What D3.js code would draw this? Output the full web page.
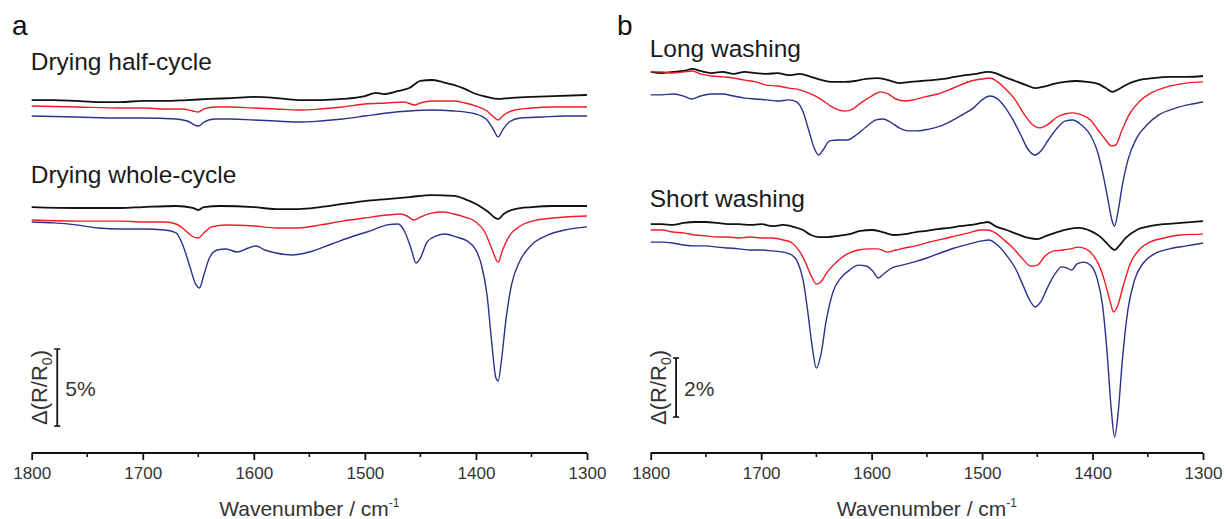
<!DOCTYPE html>
<html>
<head>
<meta charset="utf-8">
<script src="https://cdn.jsdelivr.net/npm/d3@7"></script>
<style>
  body { margin: 0; background: #fff; }
  svg { display: block; font-family: "Liberation Sans", Arial, sans-serif; }
</style>
</head>
<body>
<div id="chart"></div>
<script>
// ---- data: [wavenumber cm-1, ΔR/R0 in % incl. stacking offset] ----
const halfBlack = [[1800,22.92],[1780,22.92],[1760,22.86],[1740,22.79],[1720,22.79],[1700,22.86],[1680,22.86],[1660,22.92],[1640,22.99],[1620,23.05],[1600,23.12],[1580,23.05],[1560,22.92],[1540,22.92],[1520,22.99],[1500,23.18],[1490,23.38],[1483,23.31],[1470,23.51],[1460,23.70],[1450,24.16],[1440,24.22],[1430,24.09],[1420,23.90],[1410,23.64],[1400,23.31],[1390,23.12],[1380,22.99],[1370,23.05],[1350,23.12],[1330,23.18],[1300,23.25]];
const halfRed = [[1800,22.53],[1760,22.47],[1720,22.40],[1700,22.40],[1680,22.34],[1665,22.34],[1655,22.21],[1650,22.14],[1645,22.34],[1635,22.47],[1620,22.47],[1600,22.40],[1580,22.34],[1560,22.27],[1540,22.34],[1520,22.47],[1500,22.66],[1480,22.73],[1465,22.79],[1455,22.60],[1450,22.73],[1440,22.86],[1420,22.86],[1410,22.73],[1400,22.53],[1390,22.21],[1385,21.88],[1380,21.62],[1375,21.95],[1365,22.27],[1350,22.40],[1330,22.47],[1300,22.47]];
const halfBlue = [[1800,21.88],[1760,21.82],[1720,21.75],[1700,21.75],[1670,21.69],[1660,21.56],[1650,21.23],[1645,21.49],[1635,21.69],[1620,21.69],[1600,21.62],[1580,21.56],[1560,21.49],[1540,21.56],[1520,21.69],[1500,21.88],[1480,22.08],[1460,22.21],[1440,22.27],[1420,22.21],[1400,22.01],[1390,21.62],[1385,21.10],[1380,20.52],[1376,20.97],[1370,21.49],[1360,21.75],[1340,21.82],[1320,21.88],[1300,21.88]];

const wholeBlack = [[1800,15.97],[1760,15.91],[1720,15.91],[1700,15.97],[1670,16.04],[1655,15.91],[1650,15.78],[1645,15.97],[1630,16.04],[1600,15.97],[1580,15.84],[1560,15.84],[1540,15.97],[1520,16.17],[1500,16.36],[1480,16.49],[1460,16.62],[1440,16.75],[1420,16.69],[1410,16.49],[1400,16.17],[1390,15.71],[1380,15.19],[1375,15.52],[1365,15.84],[1350,15.97],[1330,16.04],[1300,16.04]];
const wholeRed = [[1800,15.13],[1760,15.06],[1720,15.06],[1700,15.00],[1680,15.00],[1670,14.87],[1662,14.48],[1656,14.09],[1650,13.96],[1645,14.29],[1638,14.68],[1625,14.81],[1600,14.74],[1580,14.61],[1560,14.61],[1540,14.81],[1520,15.06],[1500,15.26],[1480,15.45],[1468,15.52],[1462,15.39],[1456,15.13],[1450,15.32],[1440,15.58],[1430,15.65],[1420,15.52],[1410,15.32],[1400,15.00],[1392,14.35],[1386,13.31],[1380,12.40],[1376,13.18],[1370,14.09],[1360,14.74],[1345,15.13],[1320,15.32],[1300,15.39]];
const wholeBlue = [[1800,15.00],[1780,14.94],[1760,14.81],[1740,14.61],[1720,14.55],[1700,14.55],[1680,14.48],[1670,14.29],[1664,13.51],[1658,12.21],[1652,10.91],[1649,10.71],[1645,11.56],[1640,12.66],[1633,13.18],[1625,13.25],[1615,13.05],[1605,13.31],[1598,13.44],[1590,13.18],[1580,12.99],[1565,12.86],[1550,13.05],[1530,13.57],[1510,14.09],[1495,14.42],[1480,14.81],[1470,14.87],[1464,14.35],[1458,13.18],[1454,12.34],[1450,12.66],[1444,13.70],[1436,14.09],[1428,14.22],[1418,14.03],[1408,13.77],[1400,13.18],[1395,12.21],[1390,10.26],[1386,7.34],[1382,4.87],[1380,4.68],[1377,6.04],[1373,8.64],[1368,10.91],[1360,12.53],[1350,13.51],[1335,14.16],[1320,14.48],[1300,14.68]];

const longBlack = [[1800,12.92],[1790,12.88],[1780,12.92],[1770,12.95],[1762,13.02],[1755,12.95],[1745,12.88],[1735,12.92],[1725,12.85],[1715,12.92],[1705,12.88],[1695,12.85],[1685,12.88],[1675,12.81],[1665,12.85],[1655,12.75],[1645,12.64],[1635,12.58],[1625,12.58],[1615,12.61],[1605,12.68],[1595,12.71],[1585,12.64],[1575,12.54],[1565,12.58],[1555,12.61],[1545,12.64],[1535,12.68],[1525,12.75],[1515,12.81],[1505,12.85],[1495,12.92],[1488,12.88],[1480,12.75],[1470,12.61],[1460,12.47],[1452,12.37],[1445,12.41],[1435,12.51],[1425,12.58],[1415,12.61],[1405,12.58],[1395,12.51],[1388,12.37],[1382,12.24],[1376,12.34],[1368,12.51],[1358,12.64],[1345,12.71],[1330,12.75],[1315,12.75],[1300,12.78]];
const longRed = [[1800,12.92],[1790,12.92],[1780,12.88],[1770,12.92],[1762,12.95],[1755,12.85],[1745,12.78],[1735,12.75],[1725,12.71],[1715,12.64],[1705,12.58],[1695,12.47],[1685,12.44],[1675,12.37],[1665,12.31],[1655,12.17],[1645,11.97],[1637,11.76],[1630,11.63],[1624,11.59],[1617,11.66],[1610,11.86],[1600,12.10],[1592,12.24],[1585,12.17],[1578,12.00],[1570,11.93],[1562,11.97],[1552,12.07],[1540,12.17],[1530,12.31],[1520,12.47],[1510,12.61],[1500,12.68],[1493,12.71],[1486,12.58],[1478,12.31],[1470,11.97],[1462,11.49],[1455,11.15],[1448,11.02],[1440,11.15],[1432,11.39],[1425,11.49],[1418,11.53],[1410,11.46],[1402,11.29],[1395,10.95],[1388,10.61],[1383,10.41],[1379,10.44],[1374,10.88],[1367,11.46],[1358,11.90],[1345,12.24],[1330,12.44],[1315,12.54],[1300,12.58]];
const longBlue = [[1800,12.14],[1790,12.14],[1780,12.17],[1770,12.10],[1763,12.00],[1755,12.10],[1745,12.17],[1735,12.17],[1725,12.10],[1715,12.03],[1705,12.00],[1695,11.97],[1685,11.93],[1675,11.97],[1668,11.90],[1662,11.56],[1657,10.95],[1652,10.34],[1648,10.10],[1644,10.27],[1638,10.58],[1630,10.61],[1622,10.61],[1614,10.78],[1605,11.05],[1596,11.29],[1590,11.32],[1583,11.22],[1575,11.02],[1567,10.92],[1558,10.92],[1548,10.98],[1538,11.08],[1528,11.25],[1518,11.46],[1508,11.69],[1500,11.97],[1493,12.10],[1487,12.03],[1480,11.76],[1472,11.29],[1465,10.78],[1458,10.27],[1452,10.10],[1446,10.27],[1440,10.61],[1432,11.02],[1425,11.25],[1418,11.29],[1410,11.12],[1402,10.78],[1396,10.27],[1391,9.53],[1386,8.58],[1382,7.83],[1380,7.69],[1377,8.17],[1373,9.08],[1368,9.93],[1360,10.68],[1350,11.15],[1340,11.46],[1325,11.69],[1310,11.83],[1300,11.90]];

const shortBlack = [[1800,7.76],[1790,7.76],[1780,7.73],[1770,7.80],[1760,7.83],[1750,7.83],[1740,7.80],[1730,7.76],[1720,7.76],[1710,7.73],[1700,7.76],[1690,7.69],[1680,7.73],[1670,7.66],[1662,7.56],[1655,7.39],[1648,7.32],[1640,7.32],[1630,7.36],[1620,7.42],[1610,7.53],[1600,7.56],[1590,7.49],[1580,7.39],[1570,7.42],[1560,7.49],[1550,7.53],[1540,7.59],[1530,7.63],[1520,7.69],[1510,7.73],[1500,7.80],[1495,7.83],[1488,7.69],[1478,7.56],[1468,7.42],[1458,7.29],[1450,7.25],[1442,7.36],[1432,7.49],[1422,7.59],[1412,7.63],[1402,7.53],[1394,7.36],[1388,7.15],[1383,6.95],[1380,6.88],[1376,7.02],[1370,7.29],[1360,7.56],[1348,7.69],[1335,7.76],[1320,7.80],[1300,7.86]];
const shortRed = [[1800,7.56],[1790,7.56],[1780,7.49],[1770,7.46],[1760,7.39],[1750,7.36],[1740,7.32],[1730,7.32],[1720,7.29],[1710,7.32],[1700,7.29],[1690,7.29],[1680,7.22],[1672,7.12],[1666,6.88],[1660,6.47],[1655,6.03],[1650,5.73],[1646,5.80],[1640,6.14],[1632,6.47],[1622,6.75],[1612,6.88],[1602,6.92],[1594,6.92],[1586,6.81],[1578,6.88],[1570,6.95],[1560,7.02],[1548,7.15],[1536,7.25],[1524,7.36],[1512,7.46],[1502,7.56],[1495,7.56],[1488,7.46],[1480,7.22],[1472,6.95],[1464,6.61],[1456,6.34],[1450,6.37],[1443,6.68],[1435,6.85],[1427,6.88],[1420,6.92],[1413,6.98],[1406,6.92],[1399,6.68],[1393,6.27],[1388,5.69],[1384,5.12],[1381,4.78],[1377,5.02],[1372,5.69],[1366,6.41],[1358,6.88],[1348,7.15],[1335,7.29],[1320,7.39],[1300,7.42]];
const shortBlue = [[1800,7.15],[1790,7.15],[1780,7.12],[1770,7.05],[1760,7.02],[1750,7.02],[1740,6.98],[1730,6.95],[1720,6.92],[1710,6.88],[1700,6.88],[1690,6.85],[1680,6.81],[1672,6.71],[1667,6.47],[1662,5.86],[1658,4.85],[1654,3.66],[1650,2.88],[1646,3.32],[1641,4.51],[1635,5.46],[1628,5.93],[1620,6.20],[1612,6.37],[1605,6.34],[1599,6.17],[1594,5.93],[1589,6.07],[1582,6.27],[1572,6.37],[1562,6.47],[1550,6.61],[1538,6.78],[1525,6.95],[1512,7.08],[1500,7.19],[1494,7.22],[1486,7.05],[1478,6.71],[1470,6.27],[1463,5.69],[1457,5.19],[1452,4.95],[1447,5.12],[1441,5.59],[1434,6.07],[1428,6.31],[1423,6.27],[1419,6.20],[1414,6.41],[1408,6.47],[1402,6.37],[1396,5.93],[1391,5.02],[1387,3.49],[1383,1.46],[1380,0.54],[1377,1.29],[1373,3.15],[1368,4.85],[1362,5.86],[1354,6.44],[1344,6.75],[1330,6.92],[1315,7.02],[1300,7.12]];

const majorTicks = [1800, 1700, 1600, 1500, 1400, 1300];
const minorTicks = [1750, 1650, 1550, 1450, 1350];
const seriesColors = ["#111111", "#ee1c25", "#2b318c"];

// ---- layout ----
const W = 1226, H = 519;
const axisY = 453;

const svg = d3.select("#chart").append("svg")
    .attr("width", W)
    .attr("height", H);

svg.append("rect").attr("width", W).attr("height", H).attr("fill", "#fff");

const panels = [
  {
    letter: "a", letterX: 12,
    x0: 31.7, x1: 587,
    yMax: 25, pxPer: 15.4,
    groups: [
      { title: "Drying half-cycle", titleY: 70, lines: [halfBlack, halfRed, halfBlue] },
      { title: "Drying whole-cycle", titleY: 183, lines: [wholeBlack, wholeRed, wholeBlue] }
    ],
    bar: [1.75, 6.75], barLabel: "5%"
  },
  {
    letter: "b", letterX: 617,
    x0: 650.7, x1: 1203,
    yMax: 13, pxPer: 29.5,
    groups: [
      { title: "Long washing", titleY: 57, lines: [longBlack, longRed, longBlue] },
      { title: "Short washing", titleY: 207, lines: [shortBlack, shortRed, shortBlue] }
    ],
    bar: [1.22, 3.22], barLabel: "2%"
  }
];

panels.forEach(p => {
  const x = d3.scaleLinear().domain([1800, 1300]).range([p.x0, p.x1]);
  const y = d3.scaleLinear().domain([0, p.yMax]).range([axisY, axisY - p.yMax * p.pxPer]);

  const g = svg.append("g");

  // panel letter
  svg.append("text")
    .attr("x", p.letterX)
    .attr("y", 35)
    .style("font-size", "28px")
    .attr("fill", "#111")
    .text(p.letter);

  const line = d3.line()
    .x(d => x(d[0]))
    .y(d => y(d[1]))
    .curve(d3.curveMonotoneX);

  p.groups.forEach(grp => {
    g.append("text")
      .attr("x", p.x0 - 1)
      .attr("y", grp.titleY)
      .style("font-size", "24.5px")
      .attr("fill", "#1a1a1a")
      .text(grp.title);

    grp.lines.forEach((data, i) => {
      g.append("path")
        .datum(data)
        .attr("fill", "none")
        .attr("stroke", seriesColors[i])
        .attr("stroke-width", i === 0 ? 1.8 : 1.4)
        .attr("stroke-linejoin", "round")
        .attr("d", line);
    });
  });

  // x axis
  const axisG = g.append("g").attr("transform", `translate(0,${axisY})`);
  axisG.call(d3.axisBottom(x).tickValues(majorTicks).tickSize(7).tickPadding(7).tickFormat(d3.format("d")));
  axisG.append("g")
    .selectAll("line")
    .data(minorTicks)
    .join("line")
    .attr("x1", d => x(d)).attr("x2", d => x(d))
    .attr("y1", 0).attr("y2", 4)
    .attr("stroke", "#111")
    .attr("stroke-width", 1.6);
  axisG.select(".domain").attr("stroke", "#111").attr("stroke-width", 1.8).attr("d", `M${p.x0},0H${p.x1}`);
  axisG.selectAll(".tick line").attr("stroke", "#111").attr("stroke-width", 1.8);
  axisG.selectAll(".tick text")
    .attr("fill", "#333")
    .style("font-size", "17px")
    .style("font-family", "'Liberation Sans', Arial, sans-serif");

  // axis title
  const t = g.append("text")
    .attr("x", (p.x0 + p.x1) / 2)
    .attr("y", 516)
    .attr("text-anchor", "middle")
    .style("font-size", "21px")
    .attr("fill", "#333");
  t.append("tspan").text("Wavenumber / cm");
  t.append("tspan").attr("dy", -9).style("font-size", "12px").text("-1");

  // scale bar
  const bx = x(1777);
  const b0 = y(p.bar[0]), b1 = y(p.bar[1]);
  g.append("line").attr("x1", bx).attr("x2", bx).attr("y1", b0).attr("y2", b1)
    .attr("stroke", "#111").attr("stroke-width", 1.8);
  [b0, b1].forEach(yy => {
    g.append("line").attr("x1", bx - 3).attr("x2", bx + 3).attr("y1", yy).attr("y2", yy)
      .attr("stroke", "#111").attr("stroke-width", 1.6);
  });
  g.append("text")
    .attr("x", bx + 8)
    .attr("y", (b0 + b1) / 2 + 8)
    .style("font-size", "21px")
    .attr("fill", "#333")
    .text(p.barLabel);

  const lab = g.append("text")
    .attr("transform", `translate(${bx - 10},${(b0 + b1) / 2}) rotate(-90)`)
    .attr("text-anchor", "middle")
    .style("font-size", "22px")
    .attr("fill", "#333");
  lab.append("tspan").text("\u0394(R/R");
  lab.append("tspan").attr("dy", 5).style("font-size", "14px").text("0");
  lab.append("tspan").attr("dy", -5).text(")");
});
</script>
</body>
</html>
